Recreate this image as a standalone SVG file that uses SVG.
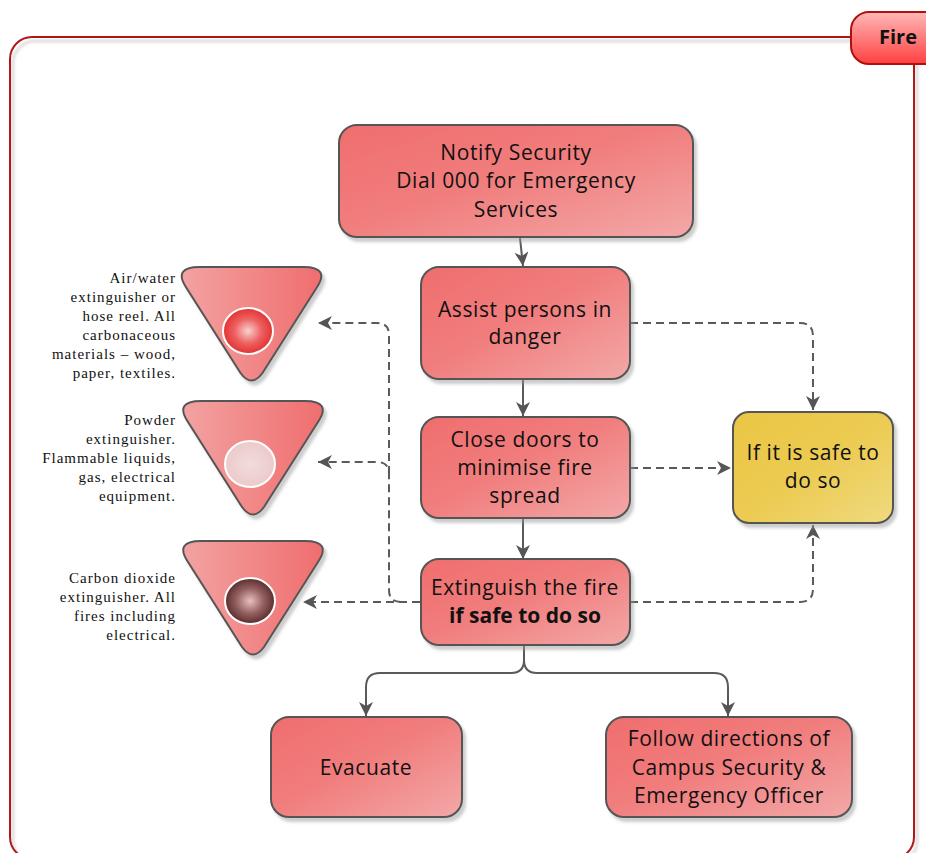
<svg xmlns="http://www.w3.org/2000/svg" xmlns:xlink="http://www.w3.org/1999/xlink" width="926" height="853" viewBox="0 0 926 853">
<style>
.node{stroke:#555;stroke-width:2;filter:url(#sh)}
.red{fill:url(#gRed)}
.yel{fill:url(#gYel)}
.tri{fill:url(#gTri);stroke:#555;stroke-width:2;filter:url(#sh)}
.t{font-family:"Open Sans","Liberation Sans",sans-serif;font-size:21px;fill:#111;text-anchor:middle;letter-spacing:0.6px}
.s{font-family:"Liberation Serif","Times New Roman",serif;font-size:15px;fill:#111;text-anchor:end;letter-spacing:1px}
.solid{fill:none;stroke:#5a5a5a;stroke-width:2}
.dash{fill:none;stroke:#5a5a5a;stroke-width:2;stroke-dasharray:8 5}
.dot{stroke:#fff;stroke-width:2}
</style>
<defs>
<linearGradient id="gRed" x1="0" y1="0" x2="1" y2="1">
<stop offset="0" stop-color="#F06E6E"/><stop offset="0.45" stop-color="#F17C7C"/><stop offset="1" stop-color="#F3A8A8"/>
</linearGradient>
<linearGradient id="gYel" x1="0" y1="0" x2="1" y2="1">
<stop offset="0" stop-color="#EBC644"/><stop offset="0.5" stop-color="#ECCB52"/><stop offset="1" stop-color="#F0DA80"/>
</linearGradient>
<linearGradient id="gTri" x1="0" y1="0" x2="1" y2="0">
<stop offset="0" stop-color="#F3A2A2"/><stop offset="1" stop-color="#F06E6E"/>
</linearGradient>
<linearGradient id="gTab" x1="0" y1="0" x2="0" y2="1">
<stop offset="0" stop-color="#FFB8B8"/><stop offset="1" stop-color="#FF4040"/>
</linearGradient>
<radialGradient id="gC1" cx="0.5" cy="0.5" r="0.55">
<stop offset="0" stop-color="#F8D0D0"/><stop offset="0.5" stop-color="#EE6060"/><stop offset="1" stop-color="#E02828"/>
</radialGradient>
<radialGradient id="gC2" cx="0.5" cy="0.5" r="0.55">
<stop offset="0" stop-color="#F2DCDC"/><stop offset="1" stop-color="#EBC8C8"/>
</radialGradient>
<radialGradient id="gC3" cx="0.5" cy="0.5" r="0.55">
<stop offset="0" stop-color="#E8C0C0"/><stop offset="0.5" stop-color="#946060"/><stop offset="1" stop-color="#4E2222"/>
</radialGradient>
<filter id="sh" x="-10%" y="-10%" width="130%" height="130%">
<feDropShadow dx="3" dy="4" stdDeviation="1.5" flood-color="#9a9a9a" flood-opacity="0.5"/>
</filter>
<path id="triShape" d="M-52,0 L52,0 Q79,0 65,21 L11,106 Q0,121 -11,106 L-65,21 Q-79,0 -52,0 Z"/>
<marker id="ah" markerUnits="userSpaceOnUse" markerWidth="15" markerHeight="14" refX="14" refY="7" orient="auto" viewBox="0 0 15 14">
<path d="M0,0 L14,7 L0,14 L4,7 Z" fill="#555"/>
</marker>
</defs>

<g id="frame">
<rect x="10" y="37" width="904" height="822" rx="22" fill="none" stroke="#B01818" stroke-width="2" filter="url(#sh)"/>
</g>
<g id="tab-fire">
<rect x="851" y="12" width="100" height="52" rx="18" fill="url(#gTab)" stroke="#B01010" stroke-width="2"/>
<text x="898" y="44" font-family="'Open Sans','Liberation Sans',sans-serif" font-size="20" font-weight="bold" fill="#111" text-anchor="middle">Fire</text>
</g>

<g id="connectors">
<path class="solid" d="M520,238 L523,266" marker-end="url(#ah)"/>
<path class="solid" d="M523,380 L523,416" marker-end="url(#ah)"/>
<path class="solid" d="M523,518 L523,559" marker-end="url(#ah)"/>
<path class="solid" d="M524,645 L524,660 Q524,673 511,673 L380,673 Q366,673 366,687 L366,716" marker-end="url(#ah)"/>
<path class="solid" d="M524,660 Q524,673 537,673 L714,673 Q728,673 728,687 L728,716" marker-end="url(#ah)"/>
<path class="dash" d="M630,323 L800,323 Q813,323 813,336 L813,410" marker-end="url(#ah)"/>
<path class="dash" d="M630,468 L731,468" marker-end="url(#ah)"/>
<path class="dash" d="M630,602 L800,602 Q813,602 813,589 L813,525" marker-end="url(#ah)"/>
<path class="dash" d="M420,602 L303,602" marker-end="url(#ah)"/>
<path class="dash" d="M401,602 Q389,602 389,590 L389,474 Q389,462 377,462 L318,462" marker-end="url(#ah)"/>
<path class="dash" d="M389,474 L389,335 Q389,323 377,323 L318,323" marker-end="url(#ah)"/>
</g>

<g id="node-notify">
<rect class="node red" x="339" y="125" width="354" height="112" rx="18"/>
<text class="t" x="516" y="160">Notify Security</text>
<text class="t" x="516" y="188">Dial 000 for Emergency</text>
<text class="t" x="516" y="217">Services</text>
</g>
<g id="node-assist">
<rect class="node red" x="421" y="267" width="209" height="112" rx="18"/>
<text class="t" x="525" y="317">Assist persons in</text>
<text class="t" x="525" y="344">danger</text>
</g>
<g id="node-close">
<rect class="node red" x="421" y="417" width="209" height="101" rx="18"/>
<text class="t" x="525" y="447">Close doors to</text>
<text class="t" x="525" y="475">minimise fire</text>
<text class="t" x="525" y="503">spread</text>
</g>
<g id="node-extinguish">
<rect class="node red" x="421" y="559" width="209" height="86" rx="18"/>
<text class="t" x="525" y="595">Extinguish the fire</text>
<text class="t" x="525" y="623" font-weight="bold" style="letter-spacing:0">if safe to do so</text>
</g>
<g id="node-safe">
<rect class="node yel" x="733" y="412" width="160" height="111" rx="16"/>
<text class="t" x="813" y="460">If it is safe to</text>
<text class="t" x="813" y="488">do so</text>
</g>
<g id="node-evacuate">
<rect class="node red" x="271" y="717" width="191" height="100" rx="18"/>
<text class="t" x="366" y="775">Evacuate</text>
</g>
<g id="node-follow">
<rect class="node red" x="606" y="717" width="246" height="100" rx="18"/>
<text class="t" x="729" y="746">Follow directions of</text>
<text class="t" x="729" y="775">Campus Security &amp;</text>
<text class="t" x="729" y="803">Emergency Officer</text>
</g>

<g id="node-water">
<use xlink:href="#triShape" href="#triShape" class="tri" transform="translate(251.5,267)"/>
<ellipse class="dot" cx="248" cy="331" rx="25" ry="23" fill="url(#gC1)"/>
<text class="s" x="176" y="283">Air/water</text>
<text class="s" x="176" y="302">extinguisher or</text>
<text class="s" x="176" y="321">hose reel. All</text>
<text class="s" x="176" y="340">carbonaceous</text>
<text class="s" x="176" y="359">materials – wood,</text>
<text class="s" x="176" y="378">paper, textiles.</text>
</g>
<g id="node-powder">
<use xlink:href="#triShape" href="#triShape" class="tri" transform="translate(253,401)"/>
<ellipse class="dot" cx="250" cy="464" rx="25" ry="23" fill="url(#gC2)"/>
<text class="s" x="176" y="425">Powder</text>
<text class="s" x="176" y="444">extinguisher.</text>
<text class="s" x="176" y="463">Flammable liquids,</text>
<text class="s" x="176" y="482">gas, electrical</text>
<text class="s" x="176" y="501">equipment.</text>
</g>
<g id="node-co2">
<use xlink:href="#triShape" href="#triShape" class="tri" transform="translate(253,541)"/>
<ellipse class="dot" cx="250" cy="601" rx="25" ry="23" fill="url(#gC3)"/>
<text class="s" x="176" y="583">Carbon dioxide</text>
<text class="s" x="176" y="602">extinguisher. All</text>
<text class="s" x="176" y="621">fires including</text>
<text class="s" x="176" y="640">electrical.</text>
</g>
</svg>
